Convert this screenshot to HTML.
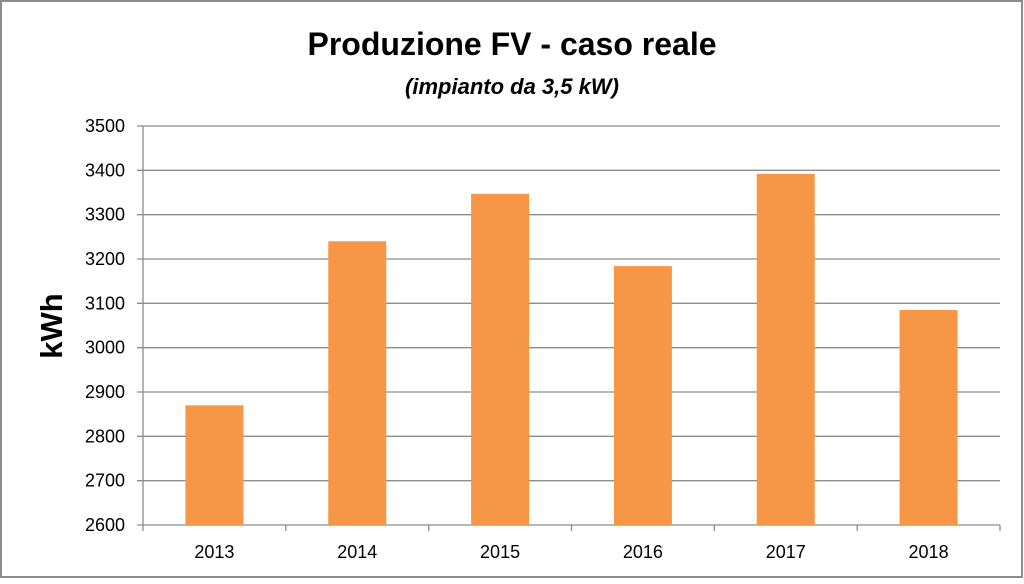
<!DOCTYPE html>
<html><head><meta charset="utf-8"><style>
body{margin:0;background:#fff}
svg text{font-family:"Liberation Sans",sans-serif}
</style></head><body>
<svg id="chart" width="1024" height="579" viewBox="0 0 1024 579">
<rect x="1" y="1" width="1021" height="576" fill="#fff" stroke="#8c8c8c" stroke-width="2"/>
<text x="512" y="55" text-anchor="middle" font-size="32" font-weight="bold" fill="#000">Produzione FV - caso reale</text>
<text x="512" y="94" text-anchor="middle" font-size="22" font-weight="bold" font-style="italic" fill="#000">(impianto da 3,5 kW)</text>
<text transform="translate(62,326) rotate(-90)" text-anchor="middle" font-size="31" font-weight="bold" fill="#000">kWh</text>
<g id="grid"></g><g id="bars"></g><g id="axes"></g>
</svg>
<script>
const categories=["2013","2014","2015","2016","2017","2018"];
const values=[2870,3240,3347,3184,3392,3085];
const yTicks=[2600,2700,2800,2900,3000,3100,3200,3300,3400,3500];
const NS="http://www.w3.org/2000/svg";
const x0=143,x1=1000,yTop=126,yBot=525,yMin=2600,yMax=3500;
const y=v=>yBot-(v-yMin)/(yMax-yMin)*(yBot-yTop);
const band=(x1-x0)/categories.length;
function mk(t,a,p){const e=document.createElementNS(NS,t);for(const k in a)e.setAttribute(k,a[k]);p.appendChild(e);return e;}
const grid=document.getElementById('grid'),bars=document.getElementById('bars'),axes=document.getElementById('axes');
yTicks.forEach(v=>{
  const l=mk('line',{x1:x0-6,x2:x1,y1:y(v),y2:y(v),stroke:'#8c8c8c','stroke-width':1.3},grid);
  
  
  const t=mk('text',{x:x0-18,y:y(v)+6,'text-anchor':'end','font-size':18,fill:'#000'},axes);
  t.textContent=v;
  
  
});
categories.forEach((c,i)=>{
  const cx=x0+band*(i+0.5),w=58;
  const r=mk('rect',{x:cx-w/2,y:y(values[i]),width:w,height:yBot-y(values[i]),fill:'#f79646'},bars);
  
  
  const t=mk('text',{x:cx,y:558,'text-anchor':'middle','font-size':18,fill:'#000'},axes);
  t.textContent=c;
  
  
  const tk=mk('line',{x1:x0+band*(i+1),x2:x0+band*(i+1),y1:yBot,y2:yBot+6,stroke:'#8c8c8c','stroke-width':1.3},axes);
  
  
});
const ya=mk('line',{x1:x0,x2:x0,y1:yTop,y2:yBot+6,stroke:'#8c8c8c','stroke-width':1.3},axes);


</script>
</body></html>
